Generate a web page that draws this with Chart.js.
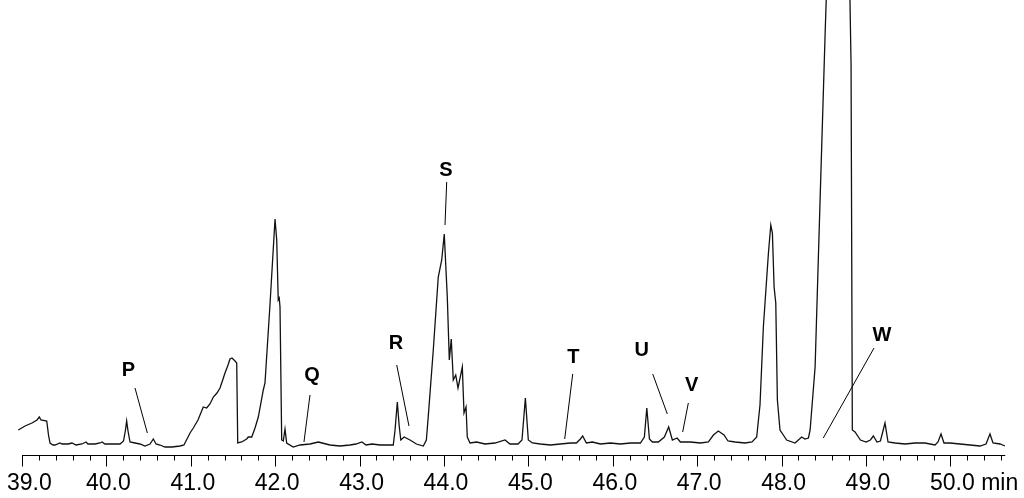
<!DOCTYPE html>
<html>
<head>
<meta charset="utf-8">
<script src="https://cdn.jsdelivr.net/npm/chart.js"></script>
<style>
  body { margin: 0; background: #fff; }
</style>
</head>
<body>
<canvas id="myChart" width="1024" height="498"></canvas>
<script>
// retention time (min) and detector signal
const times = [
  38.956, 39.036, 39.118, 39.178, 39.205, 39.225, 39.293, 39.314, 39.332, 39.367,
  39.391, 39.450, 39.474, 39.545, 39.592, 39.640, 39.711, 39.758, 39.782, 39.865,
  39.924, 39.948, 39.983, 40.102, 40.161, 40.203, 40.226, 40.240, 40.256, 40.280,
  40.339, 40.398, 40.457, 40.517, 40.556, 40.588, 40.635, 40.694, 40.777, 40.872,
  40.919, 40.955, 40.991, 41.030, 41.085, 41.148, 41.188, 41.227, 41.267, 41.310,
  41.346, 41.382, 41.405, 41.441, 41.464, 41.488, 41.524, 41.544, 41.556, 41.603,
  41.662, 41.681, 41.722, 41.761, 41.800, 41.859, 41.879, 41.938, 41.998, 42.018,
  42.036, 42.048, 42.057, 42.077, 42.096, 42.116, 42.136, 42.214, 42.294, 42.412,
  42.511, 42.555, 42.649, 42.768, 42.886, 42.957, 43.028, 43.076, 43.147, 43.242,
  43.336, 43.399, 43.420, 43.447, 43.468, 43.488, 43.528, 43.597, 43.673, 43.755,
  43.791, 43.813, 43.873, 43.932, 43.973, 44.003, 44.039, 44.063, 44.086, 44.110,
  44.139, 44.166, 44.217, 44.237, 44.261, 44.276, 44.308, 44.387, 44.486, 44.604,
  44.723, 44.782, 44.877, 44.924, 44.964, 44.999, 45.047, 45.142, 45.261, 45.379,
  45.498, 45.569, 45.616, 45.643, 45.687, 45.758, 45.853, 45.972, 46.090, 46.209,
  46.327, 46.374, 46.403, 46.434, 46.469, 46.540, 46.611, 46.662, 46.706, 46.762,
  46.801, 46.919, 47.038, 47.133, 47.192, 47.250, 47.318, 47.365, 47.448, 47.567,
  47.650, 47.705, 47.744, 47.784, 47.844, 47.872, 47.891, 47.911, 47.931, 47.950,
  47.981, 48.060, 48.159, 48.238, 48.277, 48.318, 48.338, 48.397, 48.456, 48.516,
  48.573, 48.787, 48.823, 48.838, 48.870, 48.934, 49.000, 49.052, 49.087, 49.130,
  49.171, 49.225, 49.261, 49.344, 49.462, 49.581, 49.699, 49.818, 49.853, 49.889,
  49.924, 49.995, 50.114, 50.232, 50.351, 50.422, 50.469, 50.505, 50.588, 50.647
];
const signal = [
  15, 19, 22, 25, 28, 25, 24, 10, 2, 0,
  0, 2, 1, 1, 2, 0, 1, 3, 1, 1,
  2, 3, 1, 1, 1, 4, 15, 24, 14, 3,
  2, 1, -1, 1, 6, 1, 0, -2, -2, -1,
  0, 6, 12, 17, 25, 38, 37, 41, 48, 52,
  57, 66, 72, 80, 86, 87, 84, 82, 2, 3,
  6, 8, 8, 17, 28, 55, 62, 140, 226, 205,
  145, 147, 138, 5, 4, 16, 2, -2, 0, 1,
  3, 2, 0, -1, 0, 1, 3, 0, 1, 0,
  0, 0, 15, 43, 20, 5, 8, 5, 1, -1,
  5, 28, 95, 168, 185, 211, 148, 85, 106, 65,
  70, 57, 78, 32, 38, 8, 2, 3, 1, 2,
  5, 1, 1, 5, 47, 5, 2, 1, 0, 1,
  2, 2, 6, 9, 2, 3, 1, 2, 1, 2,
  2, 8, 37, 6, 3, 3, 8, 18, 5, 7,
  3, 3, 2, 3, 10, 14, 10, 4, 3, 2,
  3, 8, 40, 118, 192, 220, 212, 158, 142, 45,
  15, 5, 2, 8, 6, 7, 15, 78, 245, 412,
  560, 560, 380, 15, 13, 5, 3, 5, 9, 3,
  4, 22, 3, 2, 1, 2, 2, 0, 3, 11,
  2, 2, 1, 0, -1, 1, 11, 2, 1, -1
];

// axis ticks
const majorTicks = [39, 40, 41, 42, 43, 44, 45, 46, 47, 48, 49, 50];
const tickLabels = ['39.0', '40.0', '41.0', '42.0', '43.0', '44.0', '45.0', '46.0', '47.0', '48.0', '49.0', '50.0 min'];

// peak labels: name, text position, leader line from / to (data coords)
const peakNames = ['P', 'Q', 'R', 'S', 'T', 'U', 'V', 'W'];
const labelAt = [[40.260, 75], [42.436, 70], [43.431, 102], [44.024, 275], [45.532, 88], [46.342, 95], [46.935, 60], [49.190, 110]];
const lineFrom = [[40.339, 57], [42.412, 50], [43.440, 80], [44.032, 263], [45.525, 71], [46.473, 71], [46.895, 42], [49.095, 97]];
const lineTo = [[40.485, 12], [42.341, 3], [43.585, 19], [44.012, 220], [45.430, 6], [46.646, 31], [46.828, 13], [48.494, 7]];

const points = times.map((t, i) => ({ x: t, y: signal[i] }));

const axisPlugin = {
  id: 'chromAxis',
  afterDraw(chart) {
    const c = chart.ctx;
    const xs = chart.scales.x;
    const ys = chart.scales.y;
    const axisY = 455.5;
    c.save();
    c.strokeStyle = '#000';
    c.lineWidth = 1;
    // axis line
    c.beginPath();
    c.moveTo(xs.getPixelForValue(39.0), axisY);
    c.lineTo(xs.getPixelForValue(50.65), axisY);
    c.stroke();
    // minor + major ticks every 0.2 min
    for (let k = 0; k <= 58; k++) {
      const v = 39 + k * 0.2;
      const px = Math.round(xs.getPixelForValue(v)) + 0.5;
      const len = (k % 5 === 0) ? 11 : 5;
      c.beginPath();
      c.moveTo(px, axisY);
      c.lineTo(px, axisY + len);
      c.stroke();
    }
    // tick labels
    c.fillStyle = '#000';
    c.font = '23px "Liberation Sans", Arial, sans-serif';
    c.textBaseline = 'alphabetic';
    c.textAlign = 'left';
    majorTicks.forEach((v, i) => {
      const px = xs.getPixelForValue(v);
      const num = tickLabels[i].split(' ')[0];
      const w = c.measureText(num).width;
      let left = px - w / 2 + 2;
      if (left < 7) left = 7;
      c.fillText(tickLabels[i], left, 490);
    });
    // peak labels and leader lines
    c.font = 'bold 20px "Liberation Sans", Arial, sans-serif';
    c.textAlign = 'center';
    c.textBaseline = 'middle';
    peakNames.forEach((name, i) => {
      c.fillText(name, xs.getPixelForValue(labelAt[i][0]), ys.getPixelForValue(labelAt[i][1]));
      c.beginPath();
      c.moveTo(xs.getPixelForValue(lineFrom[i][0]), ys.getPixelForValue(lineFrom[i][1]));
      c.lineTo(xs.getPixelForValue(lineTo[i][0]), ys.getPixelForValue(lineTo[i][1]));
      c.stroke();
    });
    c.restore();
  }
};

const ctx = document.getElementById('myChart');

new Chart(ctx, {
  type: 'line',
  data: {
    datasets: [{
      data: points,
      borderColor: '#111',
      borderWidth: 1.3,
      pointRadius: 0,
      tension: 0,
      fill: false
    }]
  },
  options: {
    responsive: false,
    animation: false,
    layout: {
      padding: { left: 17.78, right: 18.74, top: 0, bottom: 43 }
    },
    plugins: {
      legend: { display: false },
      tooltip: { enabled: false }
    },
    scales: {
      x: {
        type: 'linear',
        min: 38.95,
        max: 50.65,
        display: false
      },
      y: {
        min: -10,
        max: 445,
        display: false
      }
    }
  },
  plugins: [axisPlugin]
});
</script>
</body>
</html>
